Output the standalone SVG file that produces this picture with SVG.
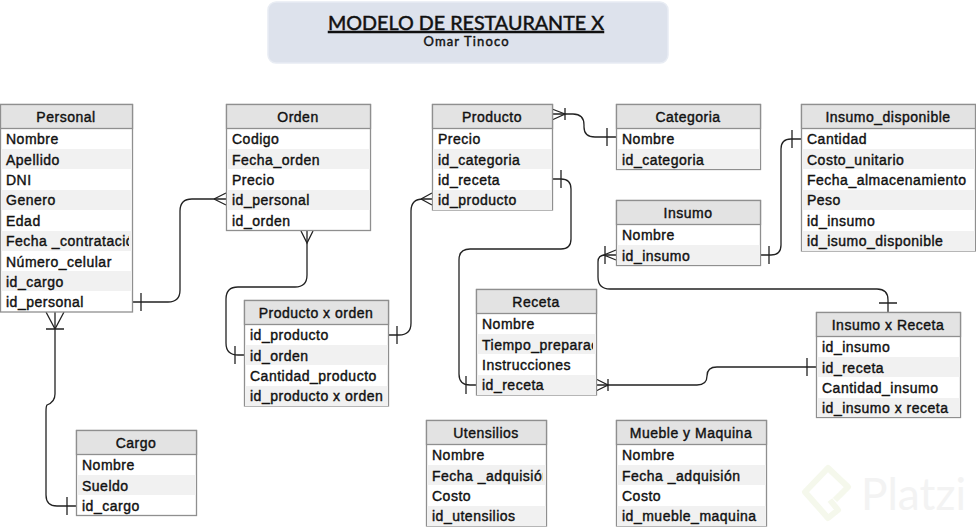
<svg xmlns="http://www.w3.org/2000/svg" width="976" height="527" viewBox="0 0 976 527">
<style>
.box{fill:#fff;stroke:#8f8f8f;stroke-width:1.3}
.head{fill:#e3e3e3;stroke:#8f8f8f;stroke-width:1.3}
.alt{fill:#f1f1f1}
.t{font-family:"Liberation Sans",Arial,sans-serif;font-size:14px;font-weight:400;letter-spacing:.5px;fill:#111;stroke:#111;stroke-width:.4}
.h{text-anchor:middle}
.c{fill:none;stroke:#222;stroke-width:1.3}
.ttl{font-family:Lato,"DejaVu Sans",sans-serif;fill:#111;stroke:#111;text-anchor:middle}
</style>
<defs>
<clipPath id="cp1"><rect x="0" y="104" width="129" height="208"/></clipPath>
<clipPath id="cp2"><rect x="476" y="289" width="117" height="106"/></clipPath>
<clipPath id="cp3"><rect x="426" y="420" width="117" height="106"/></clipPath>
</defs>
<rect width="976" height="527" fill="#fff"/>
<g id="watermark">
<path d="M835 500L848 487L828 468L805 492L828 518L838 510L830 500" fill="none" stroke="#f5f8ec" stroke-width="6" stroke-linejoin="round"/>
<text x="861" y="510" textLength="105" lengthAdjust="spacingAndGlyphs" style="font-family:Lato,sans-serif;font-size:44px;fill:#f3f3f3">Platzi</text>
</g>
<g id="title">
<rect x="268" y="2" width="400" height="61" rx="8" fill="#dde2ec" stroke="#e8ecf3" stroke-width="1.5"/>
<text x="466" y="30" class="ttl" font-size="20" stroke-width=".5" text-decoration="underline" textLength="276" lengthAdjust="spacingAndGlyphs">MODELO DE RESTAURANTE X</text>
<text x="466" y="46" class="ttl" font-size="13" stroke-width=".4" textLength="85" lengthAdjust="spacing">Omar Tinoco</text>
</g>
<g id="connectors" class="c">
<path class="c" d="M132 302H168Q180 302 180 290V211Q180 199 192 199H226"/>
<path class="c" d="M141 293V311M214 199L226 193M214 199L226 205"/>
<path class="c" d="M307 230V275Q307 287 295 287H238Q226 287 226 299V343Q226 355 238 355H244"/>
<path class="c" d="M301 231L307 243L313 231M235 346V364"/>
<path class="c" d="M388 335H399Q411 335 411 323V211Q411 199 423 199H432"/>
<path class="c" d="M397 326V344M421 199L432 193M421 199L432 205"/>
<path class="c" d="M552 114H573Q584 114 584 125V127Q584 137 595 137H616"/>
<path class="c" d="M552 109L565 114L552 120M565 108V120M607 128V146"/>
<path class="c" d="M552 179H561Q571 179 571 189V239Q571 249 561 249H470Q459 249 459 260V374Q459 385 470 385H476"/>
<path class="c" d="M561 170V188M466 376V394"/>
<path class="c" d="M760 255H771Q781 255 781 245V149Q781 139 791 139H801"/>
<path class="c" d="M769 246V264M792 130V148"/>
<path class="c" d="M888 312V300Q888 289 877 289H610Q598 289 598 277V262Q598 255 605 255H616"/>
<path class="c" d="M879 303H897M616 250L604 255L616 260M605 246V264"/>
<path class="c" d="M596 385H697Q707 385 707 376V376Q707 367 717 367H816"/>
<path class="c" d="M596 379L608 385L596 391M608 379V391M807 358V376"/>
<path class="c" d="M55 312V394Q55 402 47 405Q46 406 46 412V495Q46 506 57 506H76"/>
<path class="c" d="M46 329H64M55 329L46 312M55 329L64 312M67 497V515"/>
</g>
<g id="personal">
<rect class="box" x="0.5" y="104.500" width="132" height="207.500"/>
<rect class="alt" x="1" y="149" width="131" height="20"/><rect class="alt" x="1" y="190" width="131" height="20"/><rect class="alt" x="1" y="231" width="131" height="20"/><rect class="alt" x="1" y="271" width="131" height="20"/>
<rect class="head" x="0.5" y="104.500" width="132" height="24"/>
<text class="t h" x="66" y="122">Personal</text>
<g clip-path="url(#cp1)">
<text class="t" x="6" y="144">Nombre</text><text class="t" x="6" y="165">Apellido</text><text class="t" x="6" y="185">DNI</text><text class="t" x="6" y="205">Genero</text><text class="t" x="6" y="226">Edad</text><text class="t" x="6" y="246">Fecha _contratación</text><text class="t" x="6" y="267">Número_celular</text><text class="t" x="6" y="287">id_cargo</text><text class="t" x="6" y="307">id_personal</text>
</g>
</g>
<g id="orden">
<rect class="box" x="226.500" y="104.500" width="144" height="126"/>
<rect class="alt" x="227" y="149" width="143" height="20"/><rect class="alt" x="227" y="190" width="143" height="20"/>
<rect class="head" x="226.500" y="104.500" width="144" height="24"/>
<text class="t h" x="298" y="122">Orden</text>
<text class="t" x="232" y="144">Codigo</text><text class="t" x="232" y="165">Fecha_orden</text><text class="t" x="232" y="185">Precio</text><text class="t" x="232" y="205">id_personal</text><text class="t" x="232" y="226">id_orden</text>
</g>
<g id="producto">
<rect class="box" x="432.500" y="104.500" width="120" height="105.500"/>
<rect class="alt" x="433" y="149" width="119" height="20"/><rect class="alt" x="433" y="190" width="119" height="20"/>
<rect class="head" x="432.500" y="104.500" width="120" height="24"/>
<text class="t h" x="492" y="122">Producto</text>
<text class="t" x="438" y="144">Precio</text><text class="t" x="438" y="165">id_categoria</text><text class="t" x="438" y="185">id_receta</text><text class="t" x="438" y="205">id_producto</text>
</g>
<g id="categoria">
<rect class="box" x="616.500" y="104.500" width="144" height="65"/>
<rect class="alt" x="617" y="149" width="143" height="20"/>
<rect class="head" x="616.500" y="104.500" width="144" height="24"/>
<text class="t h" x="688" y="122">Categoria</text>
<text class="t" x="622" y="144">Nombre</text><text class="t" x="622" y="165">id_categoria</text>
</g>
<g id="insumo_disponible">
<rect class="box" x="801.500" y="104.500" width="174" height="146.500"/>
<rect class="alt" x="802" y="149" width="173" height="20"/><rect class="alt" x="802" y="190" width="173" height="20"/><rect class="alt" x="802" y="231" width="173" height="20"/>
<rect class="head" x="801.500" y="104.500" width="174" height="24"/>
<text class="t h" x="888" y="122">Insumo_disponible</text>
<text class="t" x="807" y="144">Cantidad</text><text class="t" x="807" y="165">Costo_unitario</text><text class="t" x="807" y="185">Fecha_almacenamiento</text><text class="t" x="807" y="205">Peso</text><text class="t" x="807" y="226">id_insumo</text><text class="t" x="807" y="246">id_isumo_disponible</text>
</g>
<g id="insumo">
<rect class="box" x="616.500" y="200.500" width="144" height="65"/>
<rect class="alt" x="617" y="245" width="143" height="20"/>
<rect class="head" x="616.500" y="200.500" width="144" height="24"/>
<text class="t h" x="688" y="218">Insumo</text>
<text class="t" x="622" y="240">Nombre</text><text class="t" x="622" y="261">id_insumo</text>
</g>
<g id="producto_x_orden">
<rect class="box" x="244.500" y="300.500" width="144" height="105.500"/>
<rect class="alt" x="245" y="345" width="143" height="20"/><rect class="alt" x="245" y="386" width="143" height="20"/>
<rect class="head" x="244.500" y="300.500" width="144" height="24"/>
<text class="t h" x="316" y="318">Producto x orden</text>
<text class="t" x="250" y="340">id_producto</text><text class="t" x="250" y="361">id_orden</text><text class="t" x="250" y="381">Cantidad_producto</text><text class="t" x="250" y="401">id_producto x orden</text>
</g>
<g id="receta">
<rect class="box" x="476.500" y="289.500" width="120" height="105.500"/>
<rect class="alt" x="477" y="334" width="119" height="20"/><rect class="alt" x="477" y="375" width="119" height="20"/>
<rect class="head" x="476.500" y="289.500" width="120" height="24"/>
<text class="t h" x="536" y="307">Receta</text>
<g clip-path="url(#cp2)"><text class="t" x="482" y="329">Nombre</text><text class="t" x="482" y="350">Tiempo_preparación</text><text class="t" x="482" y="370">Instrucciones</text><text class="t" x="482" y="390">id_receta</text></g>
</g>
<g id="insumo_x_receta">
<rect class="box" x="816.500" y="312.500" width="144" height="105"/>
<rect class="alt" x="817" y="357" width="143" height="20"/><rect class="alt" x="817" y="398" width="143" height="19"/>
<rect class="head" x="816.500" y="312.500" width="144" height="24"/>
<text class="t h" x="888" y="330">Insumo x Receta</text>
<text class="t" x="822" y="352">id_insumo</text><text class="t" x="822" y="373">id_receta</text><text class="t" x="822" y="393">Cantidad_insumo</text><text class="t" x="822" y="413">id_insumo x receta</text>
</g>
<g id="cargo">
<rect class="box" x="76.500" y="430.500" width="120" height="85"/>
<rect class="alt" x="77" y="475" width="119" height="20"/>
<rect class="head" x="76.500" y="430.500" width="120" height="24"/>
<text class="t h" x="136" y="448">Cargo</text>
<text class="t" x="82" y="470">Nombre</text><text class="t" x="82" y="491">Sueldo</text><text class="t" x="82" y="511">id_cargo</text>
</g>
<g id="utensilios">
<rect class="box" x="426.500" y="420.500" width="120" height="105.500"/>
<rect class="alt" x="427" y="465" width="119" height="20"/><rect class="alt" x="427" y="506" width="119" height="20"/>
<rect class="head" x="426.500" y="420.500" width="120" height="24"/>
<text class="t h" x="486" y="438">Utensilios</text>
<g clip-path="url(#cp3)"><text class="t" x="432" y="460">Nombre</text><text class="t" x="432" y="481">Fecha _adquisión</text><text class="t" x="432" y="501">Costo</text><text class="t" x="432" y="521">id_utensilios</text></g>
</g>
<g id="mueble_y_maquina">
<rect class="box" x="616.500" y="420.500" width="150" height="105.500"/>
<rect class="alt" x="617" y="465" width="149" height="20"/><rect class="alt" x="617" y="506" width="149" height="20"/>
<rect class="head" x="616.500" y="420.500" width="150" height="24"/>
<text class="t h" x="691" y="438">Mueble y Maquina</text>
<text class="t" x="622" y="460">Nombre</text><text class="t" x="622" y="481">Fecha _adquisión</text><text class="t" x="622" y="501">Costo</text><text class="t" x="622" y="521">id_mueble_maquina</text>
</g>
</svg>
